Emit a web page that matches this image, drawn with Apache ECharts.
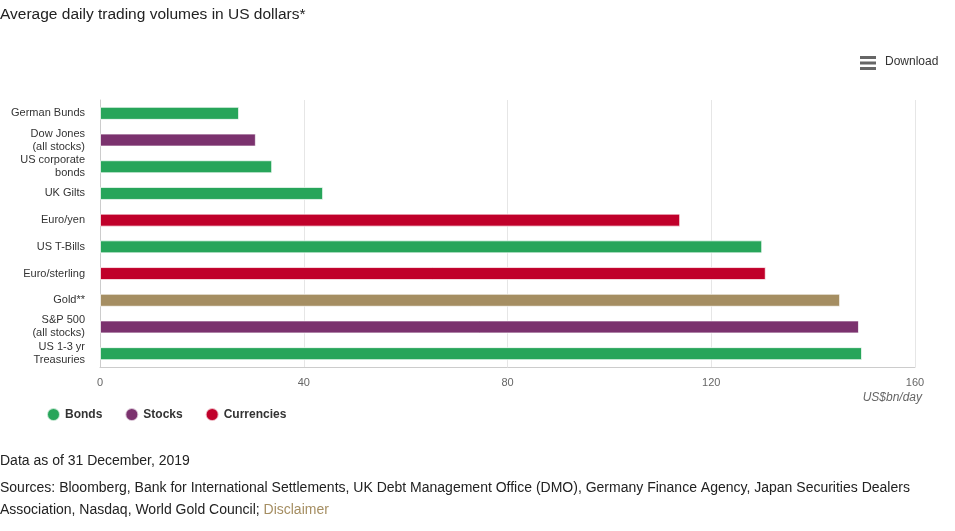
<!DOCTYPE html>
<html>
<head>
<meta charset="utf-8">
<script src="https://cdn.jsdelivr.net/npm/echarts@6/dist/echarts.min.js"></script>
<style>
html,body{margin:0;padding:0;background:#fff;}
#chart{width:955px;height:531px;}
</style>
</head>
<body>
<div id="chart"></div>
<script>
var categories = ['German Bunds','Dow Jones\n(all stocks)','US corporate\nbonds','UK Gilts','Euro/yen','US T-Bills','Euro/sterling','Gold**','S&P 500\n(all stocks)','US 1-3 yr\nTreasuries'];
var values = [27.3, 30.6, 33.8, 43.8, 113.9, 130.0, 130.7, 145.3, 149.0, 149.6];
var types = ['Bonds','Stocks','Bonds','Bonds','Currencies','Bonds','Currencies','Gold','Stocks','Bonds'];
var seriesNames = ['Bonds','Stocks','Currencies','Gold'];
var seriesColors = {Bonds:'#27a55a', Stocks:'#7b326e', Currencies:'#c0002a', Gold:'#a58e62'};
var xTicks = [0, 40, 80, 120, 160];

var series = seriesNames.map(function(n){
  return {
    name: n,
    type: 'bar',
    stack: 'all',
    barWidth: 13,
    itemStyle: {color: seriesColors[n], borderColor: 'rgba(255,255,255,0.7)', borderWidth: 1},
    data: values.map(function(v,i){ return types[i] === n ? v : '-'; })
  };
});

var F = 'Liberation Sans, Arial, sans-serif';
var chart = echarts.init(document.getElementById('chart'));
chart.setOption({
  animation: false,
  textStyle: {fontFamily: F},
  title: {
    text: 'Average daily trading volumes in US dollars*',
    left: 0, top: 7, padding: 0,
    textStyle: {fontSize: 15.5, fontWeight: 'normal', color: '#222', fontFamily: F}
  },
  legend: {
    data: ['Bonds','Stocks','Currencies'],
    left: 41, top: 402,
    icon: 'circle', itemWidth: 13, itemHeight: 13, itemGap: 22,
    textStyle: {fontSize: 12, fontWeight: 'bold', color: '#333', fontFamily: F}
  },
  grid: {left: 100, right: 40, top: 100, bottom: 164, containLabel: false},
  xAxis: {
    type: 'value', min: xTicks[0], max: xTicks[xTicks.length-1], interval: 40,
    axisLine: {show: true, lineStyle: {color: '#ccc', width: 1}},
    axisTick: {show: false},
    axisLabel: {color: '#666', fontSize: 11, margin: 10},
    splitLine: {show: true, lineStyle: {color: '#e6e6e6'}}
  },
  yAxis: {
    type: 'category', data: categories, inverse: true,
    axisLine: {show: true, lineStyle: {color: '#ccc'}},
    axisTick: {show: false},
    axisLabel: {color: '#333', fontSize: 11, lineHeight: 13, margin: 15, align: 'right'}
  },
  series: series,
  graphic: [
    {type:'rect', shape:{x:860,y:56,width:16,height:3}, style:{fill:'#666'}},
    {type:'rect', shape:{x:860,y:61.5,width:16,height:3}, style:{fill:'#666'}},
    {type:'rect', shape:{x:860,y:67,width:16,height:3}, style:{fill:'#666'}},
    {type:'text', left: 885, top: 56, style:{text:'Download', fontSize:12, fill:'#333', fontFamily:F}},
    {type:'text', right: 33, top: 392, style:{text:'US$bn/day', fontSize:12, fontStyle:'italic', fill:'#666', fontFamily:F}},
    {type:'text', left: 0, top: 454, style:{text:'Data as of 31 December, 2019', fontSize:14, fill:'#222', fontFamily:F}},
    {type:'text', left: 0, top: 481, style:{text:'Sources: Bloomberg, Bank for International Settlements, UK Debt Management Office (DMO), Germany Finance Agency, Japan Securities Dealers', fontSize:14, fill:'#222', fontFamily:F}},
    {type:'text', left: 0, top: 503, style:{
      text:'Association, Nasdaq, World Gold Council; {d|Disclaimer}', fontSize:14, fill:'#222', fontFamily:F,
      rich:{d:{fontSize:14, fill:'#a58e62', color:'#a58e62', fontFamily:F}}
    }}
  ]
});
</script>
</body>
</html>
